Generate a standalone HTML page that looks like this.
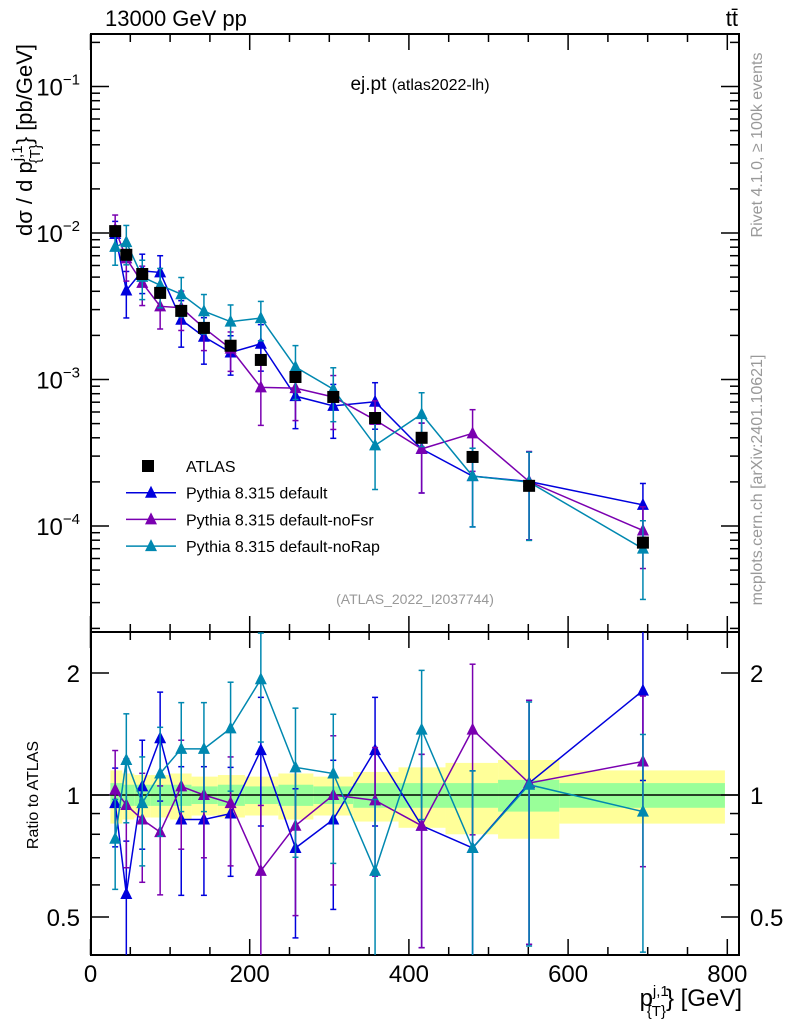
<!DOCTYPE html>
<html><head><meta charset="utf-8"><style>
body{margin:0;background:#fff;}
svg{font-family:"Liberation Sans",sans-serif;display:block}
</style></head><body>
<svg id="c" width="786" height="1024" xmlns="http://www.w3.org/2000/svg"></svg>
<script>
const xVals=[31,45,65,87.5,114,142.5,176,214,257.5,305,357.5,416,480,551,694];
const atlasVals=[1.03e-2,7.1e-3,5.25e-3,3.9e-3,2.94e-3,2.25e-3,1.70e-3,1.36e-3,1.04e-3,7.6e-4,5.46e-4,4.0e-4,2.96e-4,1.88e-4,7.7e-5];
const ratioDefault=[0.955,0.57,1.05,1.38,0.87,0.87,0.90,1.29,0.74,0.87,1.29,0.84,0.74,1.07,1.81];
const ratioNoFsr=[1.03,0.945,0.87,0.81,1.05,1.0,0.955,0.65,0.84,1.0,0.97,0.84,1.45,1.07,1.21];
const ratioNoRap=[0.78,1.22,0.955,1.13,1.30,1.30,1.46,1.93,1.17,1.13,0.65,1.45,0.74,1.06,0.91];
const errDefault=[0.22,0.35,0.3,0.3,0.35,0.35,0.3,0.35,0.4,0.4,0.35,0.5,0.55,0.6,0.4];
const errNoFsr=[0.25,0.3,0.3,0.3,0.3,0.3,0.3,0.45,0.4,0.4,0.35,0.5,0.45,0.6,0.45];
const errNoRap=[0.25,0.3,0.3,0.3,0.3,0.3,0.3,0.3,0.4,0.4,0.5,0.4,0.55,0.6,0.55];
const binEdges=[25,40,55,75,100,127,160,194,236,280,330,387,446,512,589,797];
const bandYellow=[0.15,0.13,0.12,0.12,0.13,0.11,0.12,0.11,0.13,0.11,0.14,0.17,0.2,0.22,0.15];
const bandGreen=[0.07,0.06,0.06,0.06,0.06,0.05,0.06,0.05,0.06,0.05,0.07,0.07,0.07,0.09,0.07];
const xTicks=[0,200,400,600,800];

const S=document.getElementById('c');const NS='http://www.w3.org/2000/svg';
function el(t,a,p){const e=document.createElementNS(NS,t);for(const k in a)e.setAttribute(k,a[k]);(p||S).appendChild(e);return e;}
const L=91,R=739,T=34,M=632,B=955;
const X=v=>90.5+v*0.796;
const YM=v=>233-(Math.log10(v)+2)*146.5;
const YR=r=>795-Math.log2(r)*122;
// bands
for(let i=0;i<bandYellow.length;i++){
 const x0=X(binEdges[i]),x1=X(binEdges[i+1]);
 const y=el('rect',{x:x0,y:YR(1+bandYellow[i]),width:x1-x0,height:YR(1-bandYellow[i])-YR(1+bandYellow[i]),fill:'#ffff99'});
 
 const g=el('rect',{x:x0,y:YR(1+bandGreen[i]),width:x1-x0,height:YR(1-bandGreen[i])-YR(1+bandGreen[i]),fill:'#99ff99'});
 
}
el('line',{x1:L,x2:R,y1:YR(1),y2:YR(1),stroke:'#000','stroke-width':1.5});
// frames
const f1=el('rect',{x:L,y:T,width:R-L,height:M-T,fill:'none',stroke:'#000','stroke-width':2});

const f2=el('rect',{x:L,y:M,width:R-L,height:B-M,fill:'none',stroke:'#000','stroke-width':2});

// x ticks
for(let v=0;v<=800;v+=50){const maj=v%200==0;const x=X(v);
 [[M,-1],[T,1],[B,-1],[M,1]].forEach(([y,d])=>el('line',{x1:x,x2:x,y1:y,y2:y+d*(maj?16:8),stroke:'#000','stroke-width':1.5}));}
xTicks.forEach(v=>{const t=el('text',{x:X(v),y:982,'font-size':24,'text-anchor':'middle'});t.textContent=v;
 });
// log y ticks main
for(let d=-5;d<=-1;d++)for(let m=1;m<10;m++){const v=m*Math.pow(10,d);const y=YM(v);if(y<T||y>M)continue;
 const w=m==1?18:9;el('line',{x1:L,x2:L+w,y1:y,y2:y,stroke:'#000','stroke-width':1.5});el('line',{x1:R,x2:R-w,y1:y,y2:y,stroke:'#000','stroke-width':1.5});}
[[-1],[-2],[-3],[-4]].forEach(([d])=>{const t=el('text',{x:80,y:YM(Math.pow(10,d))+9,'font-size':24,'text-anchor':'end'});
 t.innerHTML='10<tspan dy="-11" font-size="15">'+(d==-1?'−1':'−'+(-d))+'</tspan>';
 });
// ratio ticks
[0.5,0.6,0.7,0.8,0.9,1,2].forEach(r=>{const y=YR(r);const w=(r==0.5||r==1||r==2)?18:9;
 el('line',{x1:L,x2:L+w,y1:y,y2:y,stroke:'#000','stroke-width':1.5});el('line',{x1:R,x2:R-w,y1:y,y2:y,stroke:'#000','stroke-width':1.5});});
[[2,'2'],[1,'1'],[0.5,'0.5']].forEach(([r,s])=>{
 const t=el('text',{x:80,y:YR(r)+9,'font-size':24,'text-anchor':'end'});t.textContent=s;
 const t2=el('text',{x:750,y:YR(r)+9,'font-size':24});t2.textContent=s;});
// series
const series=[['default','#0000dd',ratioDefault,errDefault],['noFsr','#7a00b0',ratioNoFsr,errNoFsr],['noRap','#0088b0',ratioNoRap,errNoRap]];
function tri(x,y,c,name){const p=el('polygon',{points:`${x},${y-7} ${x-6},${y+5} ${x+6},${y+5}`,fill:c});}
series.forEach(([n,c,r,e])=>{
 const mv=r.map((q,i)=>q*atlasVals[i]);
 const pm=xVals.map((x,i)=>X(x)+','+YM(mv[i])).join(' ');
 const pl=el('polyline',{points:pm,fill:'none',stroke:c,'stroke-width':1.5});
 const pr=xVals.map((x,i)=>X(x)+','+YR(r[i])).join(' ');
 const pl2=el('polyline',{points:pr,fill:'none',stroke:c,'stroke-width':1.5});
 xVals.forEach((x,i)=>{const px=X(x);
  const lo=Math.max(mv[i]*(1-e[i]),1e-6),hi=mv[i]*(1+e[i]);
  el('line',{x1:px,x2:px,y1:YM(lo),y2:YM(hi),stroke:c,'stroke-width':1.5});
  [lo,hi].forEach(v=>el('line',{x1:px-3,x2:px+3,y1:YM(v),y2:YM(v),stroke:c,'stroke-width':1.5}));
  const rl=Math.max(r[i]*(1-e[i]),0.3),rh=r[i]*(1+e[i]);
  el('line',{x1:px,x2:px,y1:Math.min(YR(rl),B),y2:Math.max(YR(rh),M),stroke:c,'stroke-width':1.5});
  [rl,rh].forEach(v=>{const y=YR(v);if(y>M&&y<B)el('line',{x1:px-3,x2:px+3,y1:y,y2:y,stroke:c,'stroke-width':1.5});});
  tri(px,YM(mv[i]),c,'marker-'+n);
  const rv=YR(r[i]);if(rv>M&&rv<B)tri(px,rv,c,'ratio-marker-'+n);
 });
});
xVals.forEach((x,i)=>{const s=el('rect',{x:X(x)-6,y:YM(atlasVals[i])-6,width:12,height:12,fill:'#000'});});
// legend
const lg=[['ATLAS',null],['Pythia 8.315 default','#0000dd'],['Pythia 8.315 default-noFsr','#7a00b0'],['Pythia 8.315 default-noRap','#0088b0']];
lg.forEach(([t,c],i)=>{const y=466+i*26.7;
 if(!c){const s=el('rect',{x:142,y:y-6,width:12,height:12,fill:'#000'});}
 else{el('line',{x1:126,x2:176,y1:y,y2:y,stroke:c,'stroke-width':1.5});tri(151,y,c,'legend-marker');}
 const tx=el('text',{x:186,y:y+6,'font-size':16});tx.textContent=t;});
// texts
function txt(x,y,s,sz,a,extra,name){const t=el('text',Object.assign({x:x,y:y,'font-size':sz,'text-anchor':a},extra||{}));t.innerHTML=s;return t;}
txt(105,26,'13000 GeV pp',22,'start',{},'beam-label');
txt(738,26,'tt̄',22,'end',{},'process-label');
txt(420,90,'ej.pt <tspan font-size="16">(atlas2022-lh)</tspan>',19,'middle',{},'plot-title');
txt(415,604,'(ATLAS_2022_I2037744)',14,'middle',{fill:'#999'},'analysis-id');
txt(742,1006,'p<tspan dy="-10" font-size="15">j,1</tspan><tspan dy="20" dx="-22" font-size="15">{T}</tspan><tspan dy="-10">} [GeV]</tspan>',24,'end',{},'x-axis-title');
txt(0,0,'dσ / d p<tspan dy="-10" font-size="15">j,1</tspan><tspan dy="18" dx="-18" font-size="15">{T}</tspan><tspan dy="-8">} [pb/GeV]</tspan>',22,'middle',{transform:'translate(32,140) rotate(-90)'},'y-axis-title');
txt(0,0,'Ratio to ATLAS',16,'middle',{transform:'translate(38,795) rotate(-90)'},'ratio-axis-title');
txt(0,0,'Rivet 4.1.0, ≥ 100k events',16,'middle',{transform:'translate(762,145) rotate(-90)',fill:'#999'},'rivet-label');
txt(0,0,'mcplots.cern.ch [arXiv:2401.10621]',16,'middle',{transform:'translate(762,480) rotate(-90)',fill:'#999'},'mcplots-label');
</script>
</body></html>
